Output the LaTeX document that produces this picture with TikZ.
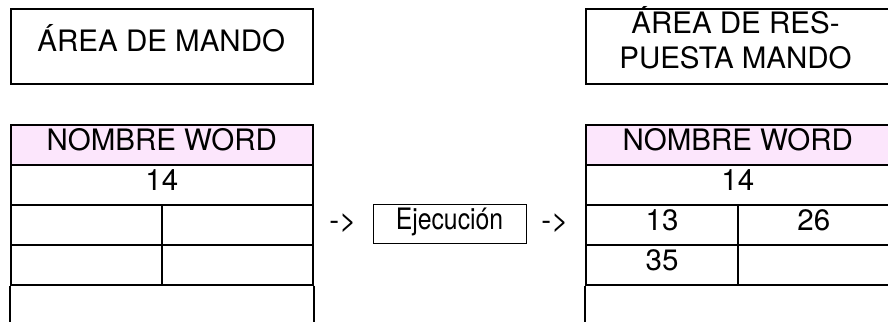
\documentclass[tikz,border=0pt]{standalone}
\usepackage{fontspec}
\setmainfont{TeX Gyre Heros}
\definecolor{headpink}{RGB}{252,230,252}
\begin{document}
\begin{tikzpicture}[x=1pt,y=-1pt,
  txt/.style={font=\fontsize{29.5}{33}\selectfont},
  label/.style={txt, anchor=base, inner sep=0pt},
  areabox/.style={draw=black, line width=2pt, inner sep=0pt},
  cell/.style={txt, draw=black, line width=2pt, inner sep=0pt,
    minimum height=40pt, text height=20pt, text depth=8pt},
  headcell/.style={cell, fill=headpink},
  stepbox/.style={txt, draw=black, line width=1pt, inner sep=0pt,
    minimum width=153pt, minimum height=39.5pt, text height=20pt, text depth=8pt},
]
\useasboundingbox (0,0) rectangle (888,321);
\clip (0,0) rectangle (888,321);

% command area
\node[areabox, minimum width=302.5pt, minimum height=74.5pt] (mando) at (161.75,46.75) {};
\node[label] (mandotxt) at (161.25,52) {ÁREA DE MANDO};

% response area
\node[areabox, minimum width=303.5pt, minimum height=74.5pt] (resp) at (737.75,46.75) {};
\node[label] (resptxta) at (735.5,34) {ÁREA DE RES-};
\node[label] (resptxtb) at (735.5,68) {PUESTA MANDO};

% word table before execution
\node[headcell, minimum width=302.5pt] (lhead) at (161.75,144.5) {NOMBRE WORD};
\node[cell, minimum width=302.5pt] (lr1) at (161.75,184.5) {14};
\node[cell, minimum width=151.5pt] (lr2a) at (86.25,224.5) {};
\node[cell, minimum width=151pt] (lr2b) at (237.5,224.5) {};
\node[cell, minimum width=151.5pt] (lr3a) at (86.25,264.5) {};
\node[cell, minimum width=151pt] (lr3b) at (237.5,264.5) {};
\draw[line width=2pt] (lr3a.south west) -- ++(0,40);
\draw[line width=2pt] (lr3b.south east) -- ++(0,40);

% execution step
\node[label] (arrin) at (343,230) {->};
\node[stepbox] (exec) at (449.5,223.75) {\scalebox{0.84}[1]{Ejecución}};
\node[label] (arrout) at (555,230) {->};

% word table after execution
\node[headcell, minimum width=303.5pt] (rhead) at (737.75,144.5) {NOMBRE WORD};
\node[cell, minimum width=303.5pt] (rr1) at (737.75,184.5) {14};
\node[cell, minimum width=152pt] (rr2a) at (662,224.5) {13};
\node[cell, minimum width=151.5pt] (rr2b) at (813.75,224.5) {26};
\node[cell, minimum width=152pt] (rr3a) at (662,264.5) {35};
\node[cell, minimum width=151.5pt] (rr3b) at (813.75,264.5) {};
\draw[line width=2pt] (rr3a.south west) -- ++(0,40);
\draw[line width=2pt] (rr3b.south east) -- ++(0,40);
\end{tikzpicture}
\end{document}
